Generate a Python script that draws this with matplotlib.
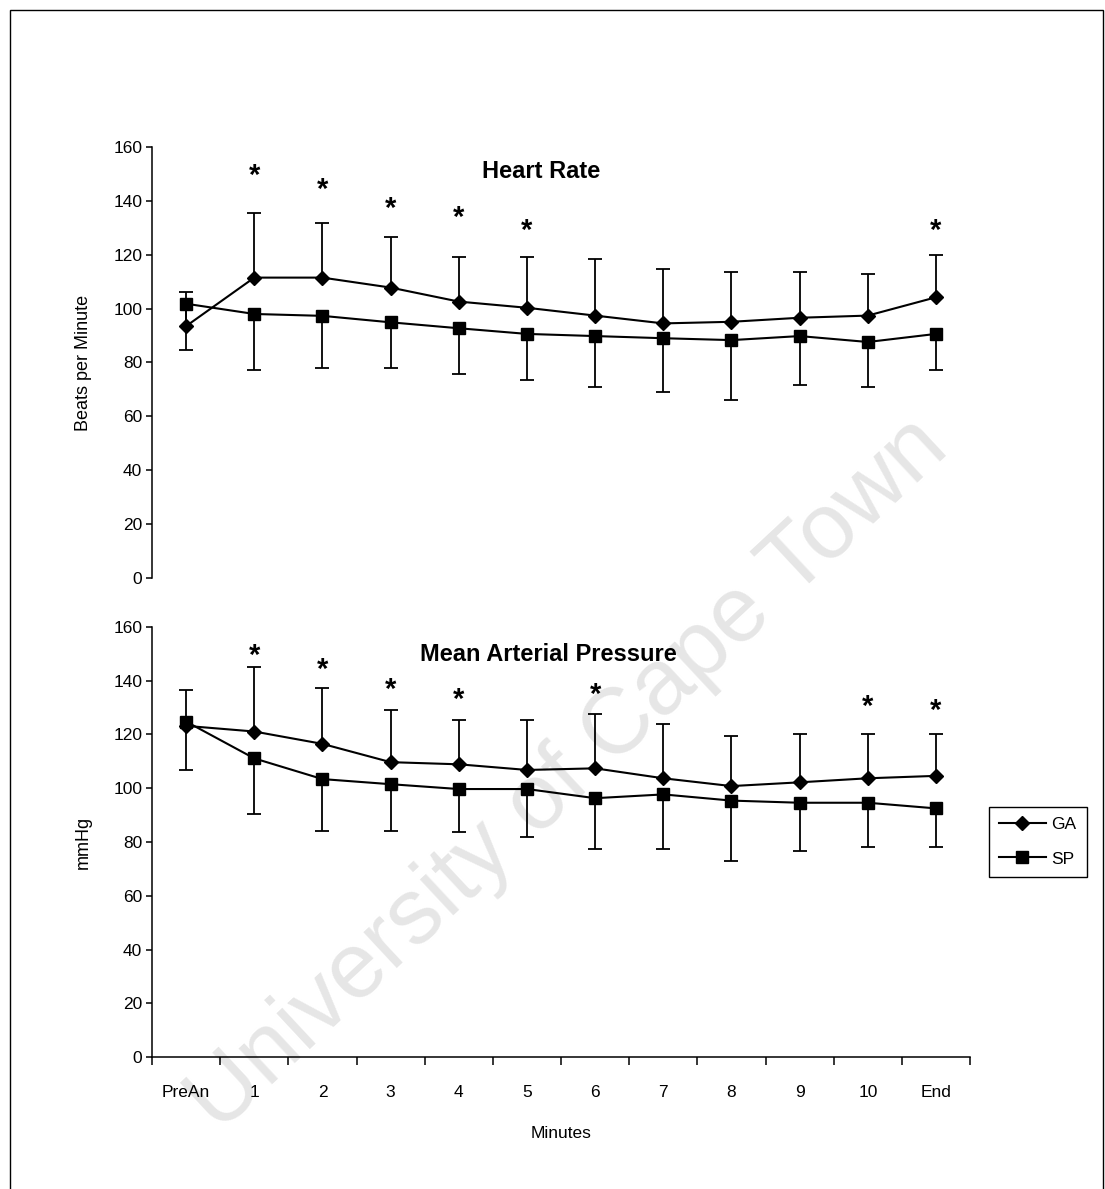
import matplotlib
matplotlib.use("Agg")
import matplotlib.pyplot as plt
from matplotlib.patches import Rectangle

plt.rcParams['font.family'] = ['Liberation Sans', 'DejaVu Sans']

minutes = ['PreAn', '1', '2', '3', '4', '5', '6', '7', '8', '9', '10', 'End']

# heart rate (beats per minute), mean and SD
hr_ga = [93.5, 111.5, 111.5, 107.8, 102.6, 100.3, 97.4, 94.5, 95.1, 96.6, 97.4, 104.2]
hr_ga_sd = [12.8, 24.1, 20.3, 18.8, 16.4, 18.7, 21.0, 20.1, 18.6, 17.1, 15.6, 15.6]
hr_sp = [101.8, 98.0, 97.3, 94.9, 92.7, 90.6, 89.8, 89.0, 88.3, 89.8, 87.6, 90.6]
hr_sp_sd = [17.2, 20.8, 19.5, 17.1, 17.1, 17.1, 18.8, 20.1, 22.3, 18.0, 16.6, 13.4]
hr_star_at = [1, 2, 3, 4, 5, 11]
hr_star_y = [149.6, 144.6, 137.5, 134.1, 129.4, 129.4]

# mean arterial pressure (mmHg), mean and SD
map_ga = [123.2, 121.1, 116.5, 109.7, 108.9, 106.8, 107.4, 103.7, 100.8, 102.2, 103.7, 104.6]
map_ga_sd = [13.4, 23.9, 20.9, 19.5, 16.6, 18.7, 20.1, 20.2, 18.6, 18.0, 16.5, 15.6]
map_sp = [124.8, 111.1, 103.4, 101.5, 99.7, 99.7, 96.3, 97.7, 95.4, 94.6, 94.6, 92.5]
map_sp_sd = [18.0, 20.8, 19.2, 17.3, 16.1, 17.7, 18.9, 20.3, 22.4, 17.8, 16.3, 14.2]
map_star_at = [1, 2, 3, 4, 6, 10, 11]
map_star_y = [149.6, 144.6, 137.2, 133.5, 135.1, 130.6, 129.1]

FS = 12.5


def draw_panel(ax, ga, ga_sd, sp, sp_sd, star_at, star_y, title, title_x, title_y, ylabel):
    x = list(range(len(minutes)))
    ga_top = [m + s for m, s in zip(ga, ga_sd)]
    sp_bot = [m - s for m, s in zip(sp, sp_sd)]
    # GA shows the plus bar, SP the minus bar
    ax.vlines(x, ga, ga_top, color='black', lw=1.3, zorder=2)
    ax.plot(x, ga_top, ls='none', marker='_', ms=9.5, mew=1.3, color='black', zorder=2)
    ax.vlines(x, sp_bot, sp, color='black', lw=1.3, zorder=2)
    ax.plot(x, sp_bot, ls='none', marker='_', ms=9.5, mew=1.3, color='black', zorder=2)
    l1, = ax.plot(x, ga, color='black', lw=1.5, marker='D', ms=7.5, zorder=3, label='GA')
    l2, = ax.plot(x, sp, color='black', lw=1.5, marker='s', ms=8, zorder=3, label='SP')

    for i, y in zip(star_at, star_y):
        ax.text(i, y - 0.5, '*', ha='center', va='center', fontsize=21, fontweight='bold')

    ax.text(title_x, title_y, title, transform=ax.transAxes, ha='center', va='center',
            fontsize=17, fontweight='bold')

    ax.set_xlim(-0.5, 11.5)
    ax.set_ylim(0, 160)
    ax.set_yticks(range(0, 161, 20))
    ax.set_facecolor('none')
    for s in ['top', 'right']:
        ax.spines[s].set_visible(False)
    ax.spines['left'].set_linewidth(1.1)
    ax.spines['bottom'].set_linewidth(1.1)
    ax.tick_params(axis='y', direction='out', length=4, width=1.1, labelsize=FS, pad=3)
    ax.set_ylabel(ylabel, fontsize=13)
    ax.yaxis.set_label_coords(-0.074, 0.5)
    return l1, l2


fig = plt.figure(figsize=(11.05, 11.89), dpi=100)
ax1 = fig.add_axes([0.1376, 0.5139, 0.7403, 0.3625])
ax2 = fig.add_axes([0.1376, 0.1110, 0.7403, 0.3617])

draw_panel(ax1, hr_ga, hr_ga_sd, hr_sp, hr_sp_sd, hr_star_at, hr_star_y,
           'Heart Rate', 0.476, 0.942, 'Beats per Minute')
h1, h2 = draw_panel(ax2, map_ga, map_ga_sd, map_sp, map_sp_sd, map_star_at, map_star_y,
                    'Mean Arterial Pressure', 0.485, 0.937, 'mmHg')

ax1.spines['bottom'].set_visible(False)
ax1.tick_params(axis='x', bottom=False, labelbottom=False)

ax2.set_xticks(range(len(minutes)), minutes)
ax2.set_xticks([i - 0.5 for i in range(len(minutes) + 1)], minor=True)
ax2.tick_params(axis='x', which='major', length=0, labelsize=FS, pad=20)
ax2.tick_params(axis='x', which='minor', direction='out', length=6, width=1.1)
ax2.set_xlabel('Minutes', fontsize=FS, labelpad=19)

leg = fig.legend([h1, h2], ['GA', 'SP'], loc='center', bbox_to_anchor=(0.939, 0.292),
                 fontsize=FS, frameon=True, fancybox=False, edgecolor='black', framealpha=1,
                 handlelength=2.7, handletextpad=0.3, labelspacing=1.1, borderpad=0.6)
leg.get_frame().set_linewidth(1.0)

# watermark, behind everything
fig.text(0.515, 1 - 775 / 1189, 'University of Cape Town', rotation=43, fontsize=67,
         color='#e6e6e6', ha='center', va='center', zorder=-1)

# page border
fig.patches.append(Rectangle((10 / 1105, -0.01), 1093 / 1105, 1 - 10 / 1189 + 0.01,
                             transform=fig.transFigure, fill=False, ec='black', lw=1.0))

fig.savefig('out.png', dpi=100)
